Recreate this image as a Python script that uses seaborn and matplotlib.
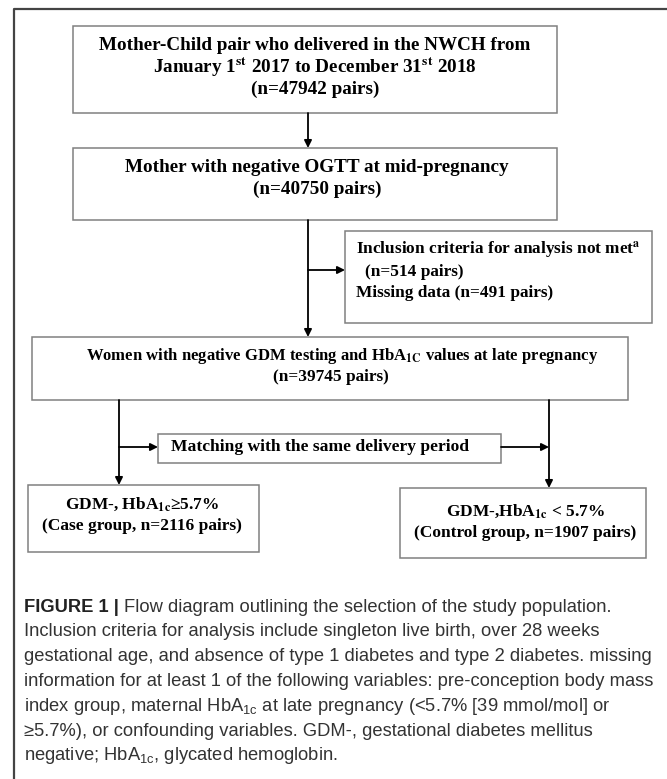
import matplotlib
matplotlib.use("Agg")
import matplotlib.pyplot as plt
import seaborn as sns
from matplotlib.patches import Rectangle

sns.set_theme(style="white")
plt.rcParams['font.family'] = ['Liberation Serif', 'DejaVu Serif']
plt.rcParams['mathtext.fontset'] = 'custom'
plt.rcParams['mathtext.rm'] = 'Liberation Sans'
plt.rcParams['mathtext.it'] = 'Liberation Sans:italic'
plt.rcParams['mathtext.bf'] = 'Liberation Sans:bold'

# ---- data ----
stage_counts = [47942, 40750, 39745]
excluded_labels = ["Inclusion criteria for analysis not met", "Missing data"]
excluded_counts = [514, 491]
group_labels = ["Case group", "Control group"]
group_counts = [2116, 1907]
matching_label = "Matching with the same delivery period"
caption_lines = [
    "Inclusion criteria for analysis include singleton live birth, over 28 weeks",
    "gestational age, and absence of type 1 diabetes and type 2 diabetes. missing",
    "information for at least 1 of the following variables: pre-conception body mass",
    "index group, maternal HbA$_{\\mathrm{1c}}$ at late pregnancy (<5.7% [39 mmol/mol] or",
    "≥5.7%), or confounding variables. GDM-, gestational diabetes mellitus",
    "negative; HbA$_{\\mathrm{1c}}$, glycated hemoglobin.",
]

fig = plt.figure(figsize=(6.67, 7.79), dpi=100)
ax = fig.add_axes([0, 0, 1, 1])
ax.set_xlim(0, 667)
ax.set_ylim(779, 0)
ax.axis('off')

# outer frame
ax.plot([14, 14, 667], [779, 9, 9], color='#444444', lw=1.6, solid_capstyle='butt')

EDGE = '#808080'


def box(x0, y0, x1, y1):
    ax.add_patch(Rectangle((x0, y0), x1 - x0, y1 - y0, fill=True, facecolor='white',
                           edgecolor=EDGE, lw=1.1, zorder=2))


def arrow(x0, y0, x1, y1):
    ax.annotate('', xy=(x1, y1), xytext=(x0, y0),
                arrowprops=dict(arrowstyle='-|>', color='black', lw=1.3,
                                mutation_scale=11, shrinkA=0, shrinkB=0), zorder=3)


def btext(x, y, s, fs, ha='center'):
    ax.text(x, y, s, ha=ha, va='center', fontsize=fs, fontweight='bold',
            color='black', math_fontfamily='stix', zorder=4)


# box 1
F1 = 13.8
box(73, 26, 557, 113)
btext(315, 45, "Mother-Child pair who delivered in the NWCH from", F1)
btext(315, 67, "January 1$^{\\mathbf{st}}$ 2017 to December 31$^{\\mathbf{st}}$ 2018", F1)
btext(315, 89, f"(n={stage_counts[0]} pairs)", F1)
arrow(308, 113, 308, 148)

# box 2
box(73, 148, 557, 220)
btext(317, 167, "Mother with negative OGTT at mid-pregnancy", F1)
btext(317, 189, f"(n={stage_counts[1]} pairs)", F1)

# main line down
arrow(308, 220, 308, 337)
arrow(308, 270, 345, 270)

# side exclusion box
F2 = 12.4
box(345, 231, 652, 323)
btext(356, 250, f"{excluded_labels[0]}$^{{\\mathbf{{a}}}}$", F2, ha='left')
btext(365, 272, f"(n={excluded_counts[0]} pairs)", F2, ha='left')
btext(356, 293, f"{excluded_labels[1]} (n={excluded_counts[1]} pairs)", F2, ha='left')

# box 4
box(32, 337, 628, 400)
btext(342, 356, "Women with negative GDM testing and HbA$_{\\mathbf{1C}}$ values at late pregnancy", 12.0)
btext(331, 377, f"(n={stage_counts[2]} pairs)", 12.4)

# split lines
arrow(119, 400, 119, 485)
arrow(549, 400, 549, 488)
box(158, 434, 501, 463)
btext(171, 447, matching_label, 12.6, ha='left')
arrow(119, 447, 158, 447)
arrow(501, 447, 549, 447)

# group boxes
F3 = 12.5
box(28, 485, 259, 552)
btext(142, 504, "GDM-, HbA$_{\\mathbf{1c}}$≥5.7%", F3)
btext(142, 526, f"({group_labels[0]}, n={group_counts[0]} pairs)", F3)

box(400, 488, 646, 558)
btext(525, 511, "GDM-,HbA$_{\\mathbf{1c}}$ < 5.7%", F3)
btext(525, 533, f"({group_labels[1]}, n={group_counts[1]} pairs)", F3)

# caption
CAP = '#333333'
CFS = 13.2
CFAM = ['Liberation Sans', 'DejaVu Sans']
t = ax.text(24, 607, "FIGURE 1 | ", ha='left', va='center', fontsize=CFS, fontweight='bold',
            family=CFAM, color='#222222')
fig.canvas.draw()
bb = t.get_window_extent()
x_after = ax.transData.inverted().transform((bb.x1, 0))[0]
ax.text(x_after, 607, "Flow diagram outlining the selection of the study population.",
        ha='left', va='center', fontsize=CFS, family=CFAM, color=CAP, math_fontfamily='custom')
for i, s in enumerate(caption_lines):
    ax.text(24, 632 + i * 24.8, s, ha='left', va='center', fontsize=CFS,
            family=CFAM, color=CAP, math_fontfamily='custom')

fig.savefig("out.png", dpi=100)
